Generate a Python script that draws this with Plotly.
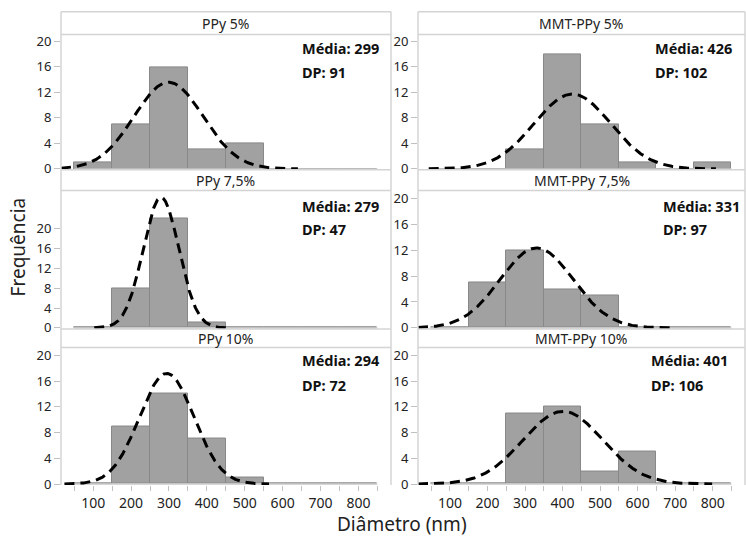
import numpy as np
import plotly.graph_objects as go

# ---------------- data ----------------
bin_centers = [100, 200, 300, 400, 500, 600, 700, 800]
bin_width = 100
panel_titles = ["PPy 5%", "MMT-PPy 5%", "PPy 7,5%", "MMT-PPy 7,5%", "PPy 10%", "MMT-PPy 10%"]
counts_ppy5 = [1, 7, 16, 3, 4, 0, 0, 0]
counts_mmt5 = [0, 0, 3, 18, 7, 1, 0, 1]
counts_ppy75 = [0, 8, 22, 1, 0, 0, 0, 0]
counts_mmt75 = [0, 7, 12, 6, 5, 0, 0, 0]
counts_ppy10 = [0, 9, 14, 7, 1, 0, 0, 0]
counts_mmt10 = [0, 0, 11, 12, 2, 5, 0, 0]
means = [299, 426, 279, 331, 294, 401]
sds = [91, 102, 47, 97, 72, 106]
y_ticks = [0, 4, 8, 12, 16, 20]
x_tick_labels = [100, 200, 300, 400, 500, 600, 700, 800]
x_minor_ticks = [50, 150, 250, 350, 450, 550, 650, 750, 850]

all_counts = [counts_ppy5, counts_mmt5, counts_ppy75, counts_mmt75, counts_ppy10, counts_mmt10]

# ---------------- layout geometry (pixels) ----------------
W, H = 746, 545
col_x = [(61, 391), (418, 745)]
row_y = [(33, 171), (192, 333), (352, 492)]
strip_y = [(10, 33), (171, 192), (333, 352)]
y_ranges = [[-0.15, 21.1], [-0.15, 21.1], [-0.2, 27.7], [-0.15, 21.2], [-0.15, 21.2], [-0.15, 21.2]]
x_range = [15, 886]
stat_x = [300, 653, 300, 661, 300, 649]
stat_y = [(47, 71), (47, 71), (208, 231), (208, 231), (365, 390), (365, 390)]

FONT = "Noto Sans"
GRID = "#d4d4d4"
TXT = "#222222"

def px_x(p):
    return p / W

def px_y(p):
    return 1 - p / H

fig = go.Figure()
layout = dict(
    width=W, height=H, margin=dict(l=0, r=0, t=0, b=0),
    paper_bgcolor="white", plot_bgcolor="white", showlegend=False,
    bargap=0, font=dict(family=FONT, color=TXT),
)
shapes = []
annotations = []

for i in range(6):
    r, c = divmod(i, 2)
    xa = "x" if i == 0 else f"x{i+1}"
    ya = "y" if i == 0 else f"y{i+1}"
    counts = all_counts[i]
    n = sum(counts)

    # baseline across all bins
    edges_lo = bin_centers[0] - bin_width / 2
    edges_hi = bin_centers[-1] + bin_width / 2
    fig.add_trace(go.Scatter(x=[edges_lo, edges_hi], y=[0, 0], mode="lines",
                             line=dict(color="#c8c8c8", width=1.5), xaxis=xa, yaxis=ya,
                             hoverinfo="skip"))
    # bars
    fig.add_trace(go.Bar(x=bin_centers, y=counts, width=[bin_width] * len(bin_centers),
                         marker=dict(color="#a1a1a1", line=dict(color="#888888", width=1)),
                         xaxis=xa, yaxis=ya))
    # fitted normal curve
    m, s = means[i], sds[i]
    lo = max(x_range[0], m - 3.75 * s)
    hi = m + 3.75 * s
    xs = np.linspace(lo, hi, 300)
    ys = n * bin_width / (s * np.sqrt(2 * np.pi)) * np.exp(-0.5 * ((xs - m) / s) ** 2)
    fig.add_trace(go.Scatter(x=xs, y=ys, mode="lines",
                             line=dict(color="black", width=3, dash="10px,6px"),
                             xaxis=xa, yaxis=ya, hoverinfo="skip"))

    xkey = "xaxis" if i == 0 else f"xaxis{i+1}"
    ykey = "yaxis" if i == 0 else f"yaxis{i+1}"
    bottom = (r == 2)
    layout[xkey] = dict(
        domain=[px_x(col_x[c][0]), px_x(col_x[c][1])],
        anchor=ya, range=x_range, showgrid=False, zeroline=False, showline=False,
        tickmode="array",
        tickvals=x_tick_labels if bottom else [],
        ticktext=[str(v) for v in x_tick_labels] if bottom else [],
        ticks="outside" if bottom else "", ticklen=5, tickcolor="#c0c0c0",
        tickfont=dict(size=14, color=TXT, family=FONT),
        showticklabels=bottom,
        minor=dict(tickvals=x_minor_ticks, ticks="outside", ticklen=5, tickcolor="#c0c0c0") if bottom else dict(ticks=""),
    )
    layout[ykey] = dict(
        domain=[px_y(row_y[r][1]), px_y(row_y[r][0])],
        anchor=xa, range=y_ranges[i], showgrid=False, zeroline=False, showline=False,
        tickmode="array", tickvals=y_ticks, ticks="outside", ticklen=6,
        tickcolor="#c0c0c0", tickfont=dict(size=13, color=TXT, family=FONT),
    )

    # strip box
    x0, x1 = px_x(col_x[c][0]), px_x(col_x[c][1])
    for yy in strip_y[r]:
        shapes.append(dict(type="line", xref="paper", yref="paper", x0=x0, x1=x1,
                           y0=px_y(yy), y1=px_y(yy), line=dict(color=GRID, width=1.5)))
    annotations.append(dict(text=panel_titles[i], xref="paper", yref="paper",
                            x=(x0 + x1) / 2, y=px_y((strip_y[r][0] + strip_y[r][1]) / 2),
                            xanchor="center", yanchor="middle", showarrow=False,
                            font=dict(size=14, color=TXT, family=FONT)))
    # stats
    annotations.append(dict(text=f"<b>Média: {means[i]}</b>", xref="paper", yref="paper",
                            x=px_x(stat_x[i]), y=px_y(stat_y[i][0]), xanchor="left",
                            yanchor="middle", showarrow=False,
                            font=dict(size=14.5, color="#111", family=FONT)))
    annotations.append(dict(text=f"<b>DP: {sds[i]}</b>", xref="paper", yref="paper",
                            x=px_x(stat_x[i]), y=px_y(stat_y[i][1]), xanchor="left",
                            yanchor="middle", showarrow=False,
                            font=dict(size=14.5, color="#111", family=FONT)))

# column border lines
for c in range(2):
    for xx in col_x[c]:
        shapes.append(dict(type="line", xref="paper", yref="paper", x0=px_x(xx), x1=px_x(xx),
                           y0=px_y(10), y1=px_y(492), line=dict(color=GRID, width=1.5)))

annotations.append(dict(text="Frequência", xref="paper", yref="paper", x=px_x(18), y=px_y(250),
                        xanchor="center", yanchor="middle", textangle=-90, showarrow=False,
                        font=dict(size=19, color=TXT, family=FONT)))
annotations.append(dict(text="Diâmetro (nm)", xref="paper", yref="paper", x=px_x(402), y=px_y(532),
                        xanchor="center", yanchor="middle", showarrow=False,
                        font=dict(size=19, color=TXT, family=FONT)))

layout["shapes"] = shapes
layout["annotations"] = annotations
fig.update_layout(**layout)
fig.write_html("out.html")
